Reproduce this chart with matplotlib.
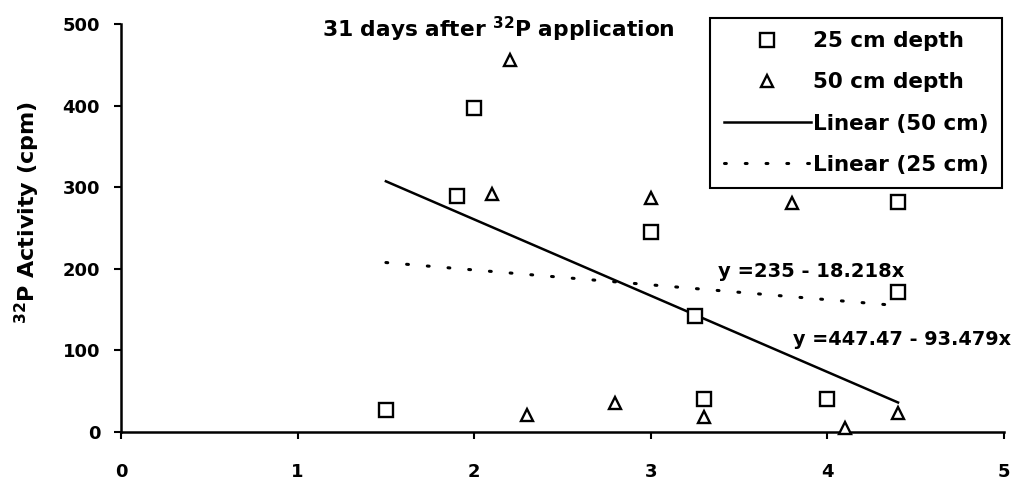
import matplotlib
matplotlib.use("Agg")
import matplotlib.pyplot as plt
from matplotlib.lines import Line2D
import numpy as np

plt.rcParams['font.family'] = ['DejaVu Sans']
plt.rcParams['font.weight'] = 'bold'
plt.rcParams['mathtext.fontset'] = 'custom'
plt.rcParams['mathtext.rm'] = 'DejaVu Sans:bold'
plt.rcParams['mathtext.bf'] = 'DejaVu Sans:bold'
plt.rcParams['mathtext.it'] = 'DejaVu Sans:bold'

# data: 25 cm depth (squares)
x25 = [1.5, 1.9, 2.0, 3.0, 3.25, 3.3, 4.0, 4.4, 4.4]
y25 = [27, 289, 397, 245, 142, 40, 41, 282, 171]
# data: 50 cm depth (triangles)
x50 = [2.1, 2.2, 2.3, 2.8, 3.0, 3.3, 3.8, 4.1, 4.4]
y50 = [292, 456, 21, 35, 287, 18, 281, 5, 23]

# linear fits (intercept, slope)
fit50 = (447.47, -93.479)
fit25 = (235.0, -18.218)
fit_range = [1.5, 4.4]

xticks = [0, 1, 2, 3, 4, 5]
yticks = [0, 100, 200, 300, 400, 500]

W, H = 1013, 482
fig = plt.figure(figsize=(W / 100, H / 100), dpi=100)
ax = fig.add_axes([121 / W, 1 - 432 / H, (1004 - 121) / W, (432 - 24) / H])

mk = dict(markerfacecolor='white', markeredgecolor='black', markeredgewidth=1.7)
ax.plot(x25, y25, linestyle='none', marker='s', markersize=9.5, zorder=3, clip_on=False, **mk)
ax.plot(x50, y50, linestyle='none', marker='^', markersize=9, zorder=3, clip_on=False, **mk)

dotted = (0, (0.6, 6.2))
xf = np.array(fit_range)
ax.plot(xf, fit50[0] + fit50[1] * xf, color='black', linewidth=1.8, zorder=2)
ax.plot(xf, fit25[0] + fit25[1] * xf, color='black', linewidth=2.2,
        linestyle=dotted, dash_capstyle='round', zorder=2)

ax.set_xlim(0, 5)
ax.set_ylim(0, 500)
ax.set_xticks(xticks)
ax.set_yticks(yticks)
ax.tick_params(axis='both', direction='out', length=5, width=1.5, labelsize=13, colors='black')
ax.tick_params(axis='x', pad=17)
ax.tick_params(axis='y', pad=10)
for lab in ax.get_xticklabels() + ax.get_yticklabels():
    lab.set_fontweight('bold')
for s in ['top', 'right']:
    ax.spines[s].set_visible(False)
for s in ['left', 'bottom']:
    ax.spines[s].set_linewidth(1.8)

ax.set_ylabel(r'$^{32}$P Activity (cpm)', fontsize=16, fontweight='bold', va='center')
ax.yaxis.set_label_coords(-0.1055, 0.539)

ax.text(1.14, 484, r'31 days after $^{32}$P application', fontsize=15.7, fontweight='bold',
        ha='left', va='baseline')
ax.text(3.38, 190, 'y =235 - 18.218x', fontsize=14, fontweight='bold', ha='left', va='baseline')
ax.text(3.805, 106.6, 'y =447.47 - 93.479x', fontsize=13.9, fontweight='bold', ha='left',
        va='baseline', clip_on=False)

handles = [
    Line2D([], [], linestyle='none', marker='s', markersize=9.5, **mk),
    Line2D([], [], linestyle='none', marker='^', markersize=9, **mk),
    Line2D([], [], color='black', linewidth=1.8),
    Line2D([], [], color='black', linewidth=2.2, linestyle=dotted, dash_capstyle='round'),
]
labels = ['25 cm depth', '50 cm depth', 'Linear (50 cm)', 'Linear (25 cm)']
leg = ax.legend(handles, labels, loc='upper right', bbox_to_anchor=(1002 / W, 1 - 18 / H),
                bbox_transform=fig.transFigure, borderaxespad=0, fontsize=15.5,
                handlelength=4.05, handletextpad=0.1, labelspacing=0.98, borderpad=0.62,
                fancybox=False, frameon=True, framealpha=1, edgecolor='black')
leg.get_frame().set_linewidth(1.5)
for t in leg.get_texts():
    t.set_fontweight('bold')

fig.savefig('out.png', dpi=100)
